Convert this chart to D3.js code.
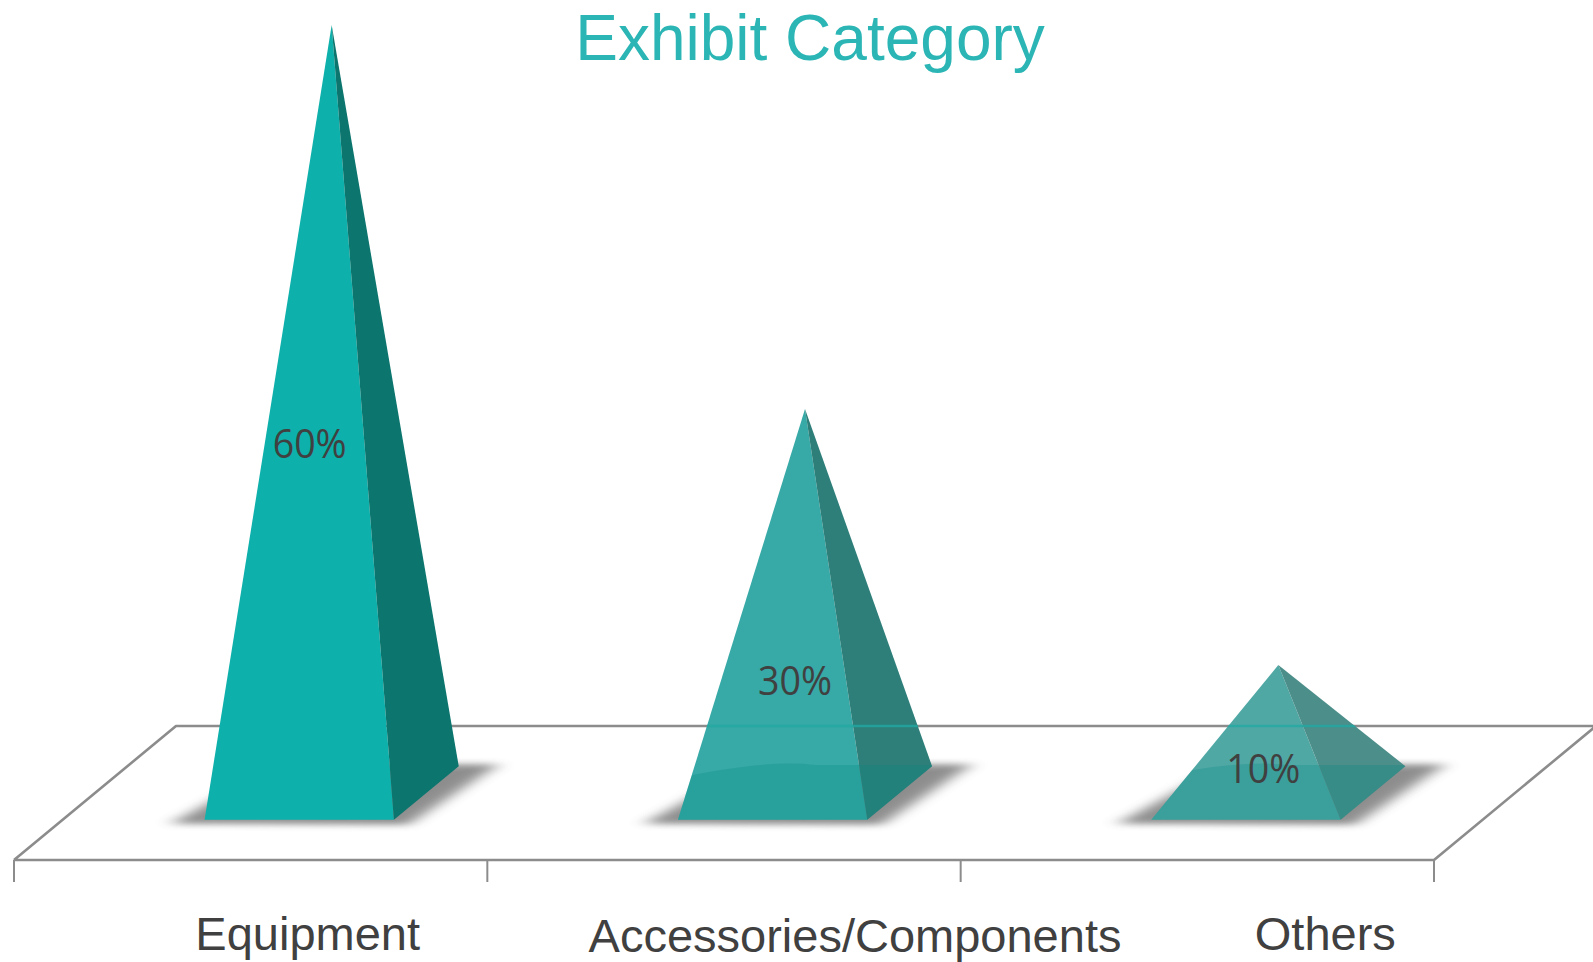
<!DOCTYPE html>
<html>
<head>
<meta charset="utf-8">
<title>Exhibit Category</title>
<script src="https://cdn.jsdelivr.net/npm/d3@7"></script>
<style>
  html, body { margin: 0; padding: 0; background: #fff; }
  svg { display: block; }
</style>
</head>
<body>
<svg id="chart" width="1593" height="962"></svg>
<script>
// Exhibit category shares
const categories = ["Equipment", "Accessories/Components", "Others"];
const shares = [0.60, 0.30, 0.10];
const frontColors = ["#0db0aa", "#37a9a6", "#50a8a5"];
const sideColors = ["#0b756e", "#2e7f7a", "#4c8e8a"];

const W = 1593, H = 962;
const svg = d3.select("#chart");

// Floor geometry (oblique projection of the category plane)
const floorFront = 860;              // y of the front floor edge
const depth = { dx: 162, dy: -134 }; // offset from front edge to back edge

const x = d3.scaleBand().domain(categories).range([14, 1434]).padding(0);
const y = d3.scaleLinear().domain([0, 0.6]).range([floorFront + depth.dy / 2, 25]);

const fmt = d3.format(".0%");

const defs = svg.append("defs");
const blur = defs.append("filter").attr("id", "baseShadow")
  .attr("x", "-30%").attr("y", "-60%").attr("width", "160%").attr("height", "220%");
blur.append("feGaussianBlur").attr("stdDeviation", "9 3");

// Floor outline
const fl = [14, floorFront];
const fr = [1434, floorFront];
const bl = [fl[0] + depth.dx, floorFront + depth.dy];
const br = [fr[0] + depth.dx, floorFront + depth.dy];

svg.append("path")
  .attr("d", d3.line()([fl, bl, br, fr, fl]))
  .attr("fill", "#fff")
  .attr("stroke", "#8c8c8c")
  .attr("stroke-width", 2.6)
  .attr("stroke-linejoin", "round");

// Category axis ticks along the front edge
const tickXs = categories.map(c => x(c)).concat([x.range()[1]]);
svg.append("g").selectAll("line")
  .data(tickXs)
  .join("line")
  .attr("x1", d => d).attr("x2", d => d)
  .attr("y1", floorFront).attr("y2", floorFront + 22)
  .attr("stroke", "#8c8c8c")
  .attr("stroke-width", 2);

// Pyramid base geometry for each category
const halfW = x.bandwidth() * 0.2;
const halfD = { dx: depth.dx * 0.2, dy: depth.dy * 0.2 };

const pyramids = categories.map((c, i) => {
  const cx = x(c) + x.bandwidth() / 2 + depth.dx / 2;
  const cy = floorFront + depth.dy / 2;
  const pFL = [cx - halfW - halfD.dx, cy - halfD.dy];
  const pFR = [cx + halfW - halfD.dx, cy - halfD.dy];
  const pBR = [cx + halfW + halfD.dx, cy + halfD.dy];
  const pBL = [cx - halfW + halfD.dx, cy + halfD.dy];
  const apex = [cx, y(shares[i])];
  return { c, i, v: shares[i], cx, cy, pFL, pFR, pBR, pBL, apex };
});

// Soft shadows around each base
svg.append("g").selectAll("path")
  .data(pyramids)
  .join("path")
  .attr("d", p => d3.line()([
    [p.pFL[0] - 34, p.pFL[1] + 4],
    [p.pFR[0] + 14, p.pFR[1] + 5],
    [p.pBR[0] + 40, p.pBR[1] - 2],
    [p.pBL[0] + 10, p.pBL[1] - 2]
  ]) + "Z")
  .attr("fill", "#7a7a7a")
  .attr("opacity", 0.85)
  .attr("filter", "url(#baseShadow)");

// Pyramids: front face and right face
const gP = svg.append("g");
pyramids.forEach(p => {
  const g = gP.append("g");
  const front = d3.line()([p.pFL, p.pFR, p.apex]) + "Z";
  const side = d3.line()([p.pFR, p.pBR, p.apex]) + "Z";
  g.append("path").attr("d", front).attr("fill", frontColors[p.i]);
  g.append("path").attr("d", side).attr("fill", sideColors[p.i]);

  if (p.i > 0) {
    // darker band near the floor on the lighter pyramids
    const clipId = "pclip" + p.i;
    defs.append("clipPath").attr("id", clipId)
      .append("path").attr("d", d3.line()([p.pFL, p.pFR, p.pBR, p.apex]) + "Z");
    g.append("path")
      .attr("clip-path", `url(#${clipId})`)
      .attr("d", `M${p.pFL[0] - 5},${p.pFL[1] + 5} L${p.pFL[0] - 5},${p.cy - 14}
                  Q${p.cx - 40},${p.cy - 34} ${p.cx + 10},${p.cy - 28}
                  L${p.pBR[0] + 10},${p.cy - 28} L${p.pBR[0] + 10},${p.pFL[1] + 5}Z`)
      .attr("fill", "#00897f")
      .attr("opacity", 0.26);
    // back floor edge showing faintly through the face
    g.append("line")
      .attr("x1", p.pFL[0]).attr("x2", p.pBR[0])
      .attr("y1", bl[1]).attr("y2", bl[1])
      .attr("stroke", "#22a9a3")
      .attr("stroke-width", 2.4)
      .attr("opacity", 0.8)
      .attr("clip-path", `url(#${clipId})`);
  }
});

// Value labels on the pyramid faces
const labelRise = [0.455, 0.293, 0.19];
const labelShift = [-22, -10, -15];
svg.append("g").selectAll("text")
  .data(pyramids)
  .join("text")
  .attr("x", p => p.cx + labelShift[p.i])
  .attr("y", p => y(p.v * labelRise[p.i]) + 14.5)
  .attr("text-anchor", "middle")
  .attr("font-family", "'Open Sans', 'Noto Sans', sans-serif")
  .attr("font-size", 41)
  .attr("textLength", 74)
  .attr("lengthAdjust", "spacingAndGlyphs")
  .attr("fill", "#404040")
  .text(p => fmt(p.v));

// Category labels
const catShift = [57, 131, 128];
const catDrop = [0, 2, 0];
svg.append("g").selectAll("text")
  .data(categories)
  .join("text")
  .attr("x", (c, i) => x(c) + x.bandwidth() / 2 + catShift[i])
  .attr("y", (c, i) => 950 + catDrop[i])
  .attr("text-anchor", "middle")
  .attr("font-family", "'Liberation Sans', Arial, sans-serif")
  .attr("font-size", 47)
  .attr("fill", "#404040")
  .text(c => c);

// Title
svg.append("text")
  .attr("x", 810)
  .attr("y", 60)
  .attr("text-anchor", "middle")
  .attr("font-family", "'Liberation Sans', Arial, sans-serif")
  .attr("font-size", 64)
  .attr("fill", "#2bb5b5")
  .text("Exhibit Category");
</script>
</body>
</html>
